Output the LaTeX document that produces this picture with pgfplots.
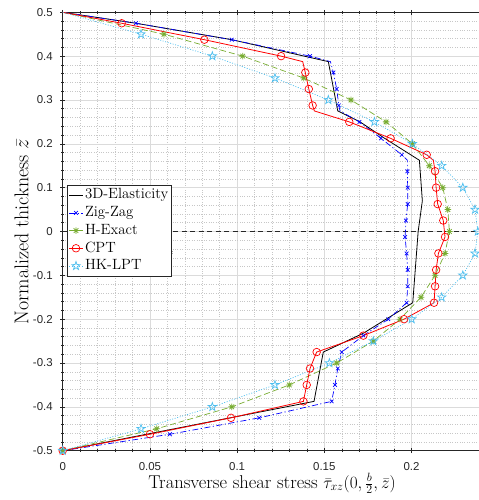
\documentclass[border=0pt]{standalone}
\usepackage{fontspec}
\usepackage{pgfplots}
\pgfplotsset{compat=1.18}
\usetikzlibrary{plotmarks}
\newfontfamily\tickfont{Liberation Sans}
\definecolor{axgray}{rgb}{0.15,0.15,0.15}
\definecolor{hgreen}{rgb}{0.466,0.674,0.188}
\definecolor{hkblue}{rgb}{0.301,0.745,0.933}
\definecolor{majgrid}{rgb}{0.86,0.86,0.86}
\definecolor{mingrid}{rgb}{0.78,0.78,0.78}

\pgfdeclareplotmark{pentagram}{%
  \pgfpathmoveto{\pgfpointpolar{90}{\pgfplotmarksize}}%
  \pgfpathlineto{\pgfpointpolar{126}{0.39\pgfplotmarksize}}%
  \pgfpathlineto{\pgfpointpolar{162}{\pgfplotmarksize}}%
  \pgfpathlineto{\pgfpointpolar{198}{0.39\pgfplotmarksize}}%
  \pgfpathlineto{\pgfpointpolar{234}{\pgfplotmarksize}}%
  \pgfpathlineto{\pgfpointpolar{270}{0.39\pgfplotmarksize}}%
  \pgfpathlineto{\pgfpointpolar{306}{\pgfplotmarksize}}%
  \pgfpathlineto{\pgfpointpolar{342}{0.39\pgfplotmarksize}}%
  \pgfpathlineto{\pgfpointpolar{18}{\pgfplotmarksize}}%
  \pgfpathlineto{\pgfpointpolar{54}{0.39\pgfplotmarksize}}%
  \pgfpathclose
  \pgfusepathqstroke
}
\pgfdeclareplotmark{ast8}{%
  \pgfpathmoveto{\pgfpointpolar{0}{\pgfplotmarksize}}\pgfpathlineto{\pgfpointpolar{180}{\pgfplotmarksize}}%
  \pgfpathmoveto{\pgfpointpolar{90}{\pgfplotmarksize}}\pgfpathlineto{\pgfpointpolar{270}{\pgfplotmarksize}}%
  \pgfpathmoveto{\pgfpointpolar{45}{\pgfplotmarksize}}\pgfpathlineto{\pgfpointpolar{225}{\pgfplotmarksize}}%
  \pgfpathmoveto{\pgfpointpolar{135}{\pgfplotmarksize}}\pgfpathlineto{\pgfpointpolar{315}{\pgfplotmarksize}}%
  \pgfusepathqstroke
}

\begin{document}
\begin{tikzpicture}
\begin{axis}[
  scale only axis,
  width=418.6bp, height=438.4bp,
  xmin=0, xmax=0.24, ymin=-0.5, ymax=0.5,
  xtick={0,0.05,0.1,0.15,0.2},
  ytick={-0.5,-0.4,-0.3,-0.2,-0.1,0,0.1,0.2,0.3,0.4,0.5},
  minor x tick num=4, minor y tick num=4,
  grid=both,
  major grid style={draw=majgrid, line width=0.5pt},
  minor grid style={draw=mingrid, dotted, line width=0.5pt},
  axis line style={draw=axgray, line width=0.6pt},
  tick style={draw=axgray, line width=0.5pt},
  tick align=center,
  major tick length=5bp, minor tick length=3bp,
  every tick label/.append style={font=\fontsize{11.5}{13}\selectfont\tickfont, text=axgray},
  /pgf/number format/assume math mode=true,
  /pgf/number format/fixed,
  xticklabel style={yshift=-6bp},
  yticklabel style={xshift=-4bp},
  xlabel={Transverse shear stress $\bar{\tau}_{xz}(0,\frac{b}{2},\bar{z})$},
  ylabel={Normalized thickness $\bar{z}$},
  xlabel style={font=\fontsize{18.6}{22}\selectfont, at={(axis description cs:0.5,-0.0851)}, anchor=base},
  ylabel style={font=\fontsize{20}{24}\selectfont, at={(axis description cs:-0.0822,0.5)}, anchor=base},
  legend style={
    at={(axis description cs:0.011,0.606)}, anchor=north west,
    draw=axgray, line width=0.6pt, fill=white,
    font=\fontsize{14.9}{18}\selectfont,
    inner xsep=1bp, inner ysep=1bp,
    row sep=0bp,
    nodes={inner sep=1.6bp, text height=11bp, text depth=3.5bp},
    cells={anchor=west},
  },
  legend image code/.code={\draw[mark indices={2}] plot coordinates {(0bp,0bp) (7bp,0bp) (14bp,0bp)};},
  legend cell align=left,
]
% zero line
\addplot[forget plot, draw=axgray, line width=0.9pt, dash pattern=on 5bp off 3.5bp] coordinates {(0,0) (0.24,0)};

% 3D-Elasticity
\addplot[black, line width=0.8pt, no marks] coordinates {
(0,0.5) (0.042,0.475) (0.097,0.4375) (0.1523,0.3875) (0.1577,0.275) (0.1705,0.25) (0.184,0.214)
(0.2045,0.1625) (0.2062,0.07) (0.2038,0) (0.2007,-0.1625) (0.1724,-0.232) (0.1494,-0.275)
(0.1441,-0.3875) (0,-0.5)};
\addlegendentry{3D-Elasticity}

% Zig-Zag
\addplot[blue, line width=0.7pt, dash pattern=on 6bp off 2.5bp on 1.2bp off 2.5bp,
  mark=x, mark size=2.6bp, mark options={solid, line width=0.7pt},
  mark indices={2,3,4,6,7,8,10,11,12,14,15,16,17,18,19,20,21,22,23,24,25,26,27,28,29,30,31}] coordinates {
(0,0.5) (0.042,0.475) (0.0969,0.4375) (0.1418,0.4) (0.1535,0.3875) (0.1552,0.3625) (0.1571,0.325)
(0.1583,0.2875) (0.159,0.275) (0.1701,0.25) (0.1825,0.2125) (0.1944,0.175) (0.1976,0.1625)
(0.1976,0.1375) (0.1978,0.1) (0.1978,0.0625) (0.1968,0.025) (0.1963,-0.0125) (0.1972,-0.05)
(0.1978,-0.0875) (0.1978,-0.125) (0.1972,-0.1625) (0.1867,-0.2) (0.1724,-0.2375) (0.16,-0.275)
(0.1577,-0.3125) (0.1561,-0.35) (0.1542,-0.3875) (0.1127,-0.425) (0.0615,-0.4625) (0,-0.5)};
\addlegendentry{Zig-Zag}

% H-Exact
\addplot[hgreen, line width=0.7pt, dash pattern=on 6bp off 3bp,
  mark=ast8, mark size=3.3bp, mark options={solid, line width=0.8pt},
  mark indices={2,3,4,5,6,7,8,9,10,11,12,13,14,15,16,17,18,19,20,21}] coordinates {
(0,0.5) (0.0581,0.45) (0.1032,0.4) (0.1382,0.35) (0.1653,0.3) (0.1854,0.25) (0.2005,0.2)
(0.2102,0.15) (0.2179,0.1) (0.2208,0.05) (0.2217,0) (0.2192,-0.05) (0.2135,-0.1) (0.2054,-0.15)
(0.1934,-0.2) (0.1781,-0.25) (0.1571,-0.3) (0.1299,-0.35) (0.0969,-0.4) (0.0539,-0.45) (0,-0.5)};
\addlegendentry{H-Exact}

% CPT
\addplot[red, line width=0.8pt, solid,
  mark=o, mark size=3.8bp, mark options={solid, line width=0.7pt},
  mark indices={2,3,4,6,7,8,10,11,12,14,15,16,17,18,19,20,21,22,23,24,25,26,27,28,29,30,31}] coordinates {
(0,0.5) (0.0338,0.475) (0.0812,0.4375) (0.1252,0.4) (0.1376,0.3875) (0.1391,0.3625) (0.1411,0.325)
(0.1433,0.2875) (0.1443,0.275) (0.1643,0.25) (0.188,0.2125) (0.2087,0.175) (0.2125,0.1625)
(0.2135,0.1375) (0.2141,0.1) (0.215,0.0625) (0.2182,0.025) (0.2192,-0.0125) (0.2154,-0.05)
(0.2141,-0.0875) (0.2135,-0.125) (0.2129,-0.1625) (0.1957,-0.2) (0.1724,-0.2375) (0.1456,-0.275)
(0.1418,-0.3125) (0.1399,-0.35) (0.138,-0.3875) (0.0965,-0.425) (0.050,-0.4625) (0,-0.5)};
\addlegendentry{CPT}

% HK-LPT
\addplot[hkblue, line width=0.7pt, dash pattern=on 1bp off 1.6bp,
  mark=pentagram, mark size=4.4bp, mark options={solid, line width=0.7pt, draw=hkblue},
  mark indices={2,3,4,5,6,7,8,9,10,11,12,13,14,15,16,17,18,19,20,21}] coordinates {
(0,0.5) (0.0449,0.45) (0.0858,0.4) (0.1217,0.35) (0.1523,0.3) (0.1787,0.25) (0.2005,0.2)
(0.2173,0.15) (0.2294,0.1) (0.2364,0.05) (0.238,0) (0.2364,-0.05) (0.2294,-0.1) (0.2173,-0.15)
(0.2001,-0.2) (0.1781,-0.25) (0.1529,-0.3) (0.1217,-0.35) (0.0858,-0.4) (0.0449,-0.45) (0,-0.5)};
\addlegendentry{HK-LPT}

\node[font=\fontsize{14.9}{18}\selectfont, text=black] at (axis cs:0.0558,-0.04) {S=4};
\end{axis}
\pgfresetboundingbox
\useasboundingbox ([xshift=-62.7bp,yshift=12.3bp]current axis.north west) rectangle ([xshift=-2.3bp,yshift=-49.3bp]current axis.south east);
\end{tikzpicture}
\end{document}
